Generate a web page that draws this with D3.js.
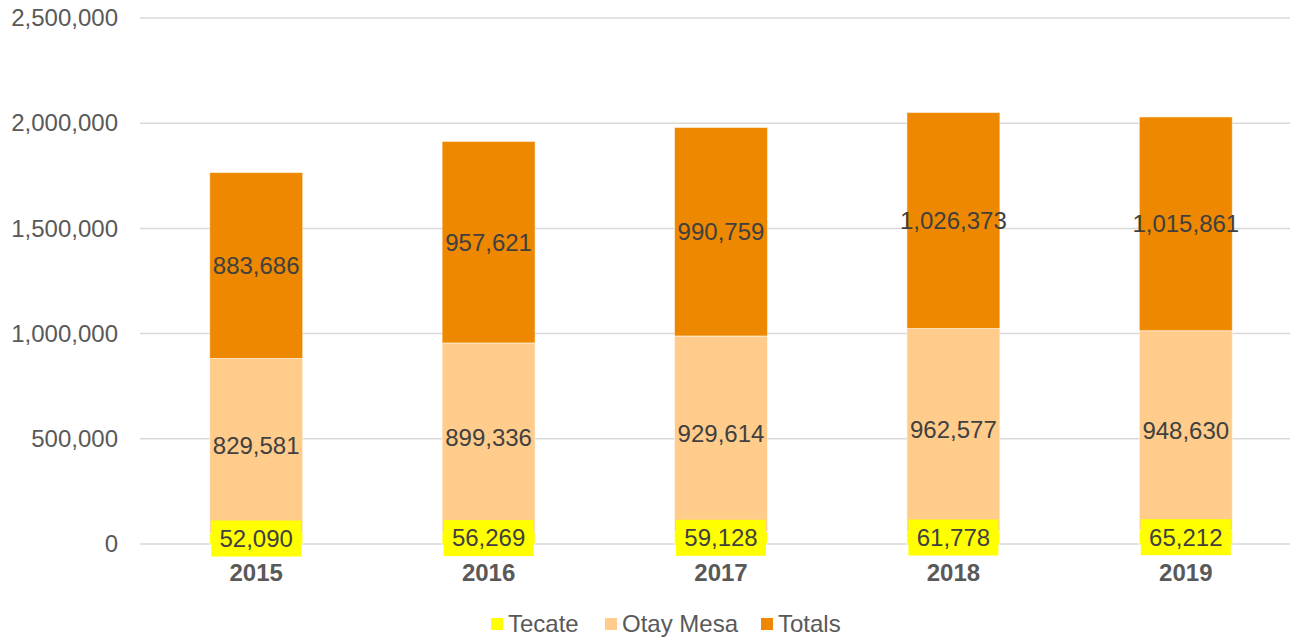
<!DOCTYPE html>
<html><head><meta charset="utf-8">
<script src="https://cdn.jsdelivr.net/npm/d3@7"></script>
<style>body{margin:0;background:#fff}svg{display:block;font-family:"Liberation Sans",Arial,sans-serif}</style>
</head><body><svg id="c" width="1290" height="637"></svg>
<script>
const categories = ["2015","2016","2017","2018","2019"];
const tecate = [52090,56269,59128,61778,65212];
const otayMesa = [829581,899336,929614,962577,948630];
const totals = [883686,957621,990759,1026373,1015861];
const seriesNames = ["Tecate","Otay Mesa","Totals"];
const seriesColors = ["#FFFF00","#FFCC8C","#EE8800"];
const yTicks = [0,500000,1000000,1500000,2000000,2500000];

const FS = 24;
const svg = d3.select("#c");
const x = d3.scaleBand().domain(categories).range([140,1302]).paddingInner(0.6).paddingOuter(0.3);
const y = d3.scaleLinear().domain([0,2500000]).range([544,18]);
const fmt = d3.format(",");

// grid
svg.append("g").selectAll("line").data(yTicks).join("line")
  .attr("x1",140).attr("x2",1290).attr("y1",d=>y(d)).attr("y2",d=>y(d))
  .attr("stroke","#D9D9D9").attr("stroke-width",1.5);

// y axis labels
const yAxis = d3.axisLeft(y).tickValues(yTicks).tickFormat(fmt).tickSize(0).tickPadding(0);
const ya = svg.append("g").attr("transform","translate(118,0)").call(yAxis);
ya.select(".domain").remove();
ya.selectAll("text").attr("font-size",FS).attr("fill","#595959").attr("font-family","Liberation Sans, Arial, sans-serif");

// x axis labels
const xAxis = d3.axisBottom(x).tickSize(0).tickPadding(0);
const xa = svg.append("g").attr("transform","translate(0,564)").call(xAxis);
xa.select(".domain").remove();
xa.selectAll("text").attr("font-size",FS).attr("font-weight","bold").attr("fill","#595959").attr("dy","0.71em").attr("font-family","Liberation Sans, Arial, sans-serif");

// stack
const rows = categories.map((c,i)=>({cat:c,Tecate:tecate[i],"Otay Mesa":otayMesa[i],Totals:totals[i]}));
const stack = d3.stack().keys(seriesNames)(rows);

const layers = svg.append("g").selectAll("g").data(stack).join("g").attr("fill",(d,i)=>seriesColors[i]);
layers.selectAll("rect").data(d=>d).join("rect")
  .attr("x",d=>x(d.data.cat)).attr("width",x.bandwidth())
  .attr("y",d=>y(d[1])).attr("height",d=>y(d[0])-y(d[1]))
  .attr("stroke","#fff").attr("stroke-opacity",0.5).attr("stroke-width",1);

// labels
stack.forEach((layer,li)=>{
  const g = svg.append("g");
  layer.forEach(d=>{
    const cx = x(d.data.cat)+x.bandwidth()/2;
    const cy = (y(d[0])+y(d[1]))/2;
    const val = d[1]-d[0];
    if(li===0){
      g.append("rect").attr("x",cx-45).attr("y",cy-18).attr("width",90).attr("height",36).attr("fill","#FFFF00");
    }
    g.append("text").attr("x",cx).attr("y",cy).attr("dy","0.35em").attr("text-anchor","middle")
      .attr("font-size",FS).attr("fill","#404040").text(fmt(val));
  });
});

// legend
const legendX = [491,605,761];
const lg = svg.append("g");
seriesNames.forEach((n,i)=>{
  lg.append("rect").attr("x",legendX[i]).attr("y",618).attr("width",12).attr("height",12).attr("fill",seriesColors[i]);
  lg.append("text").attr("x",legendX[i]+17).attr("y",624).attr("dy","0.35em").attr("font-size",FS).attr("fill","#595959").text(n);
});
</script></body></html>
